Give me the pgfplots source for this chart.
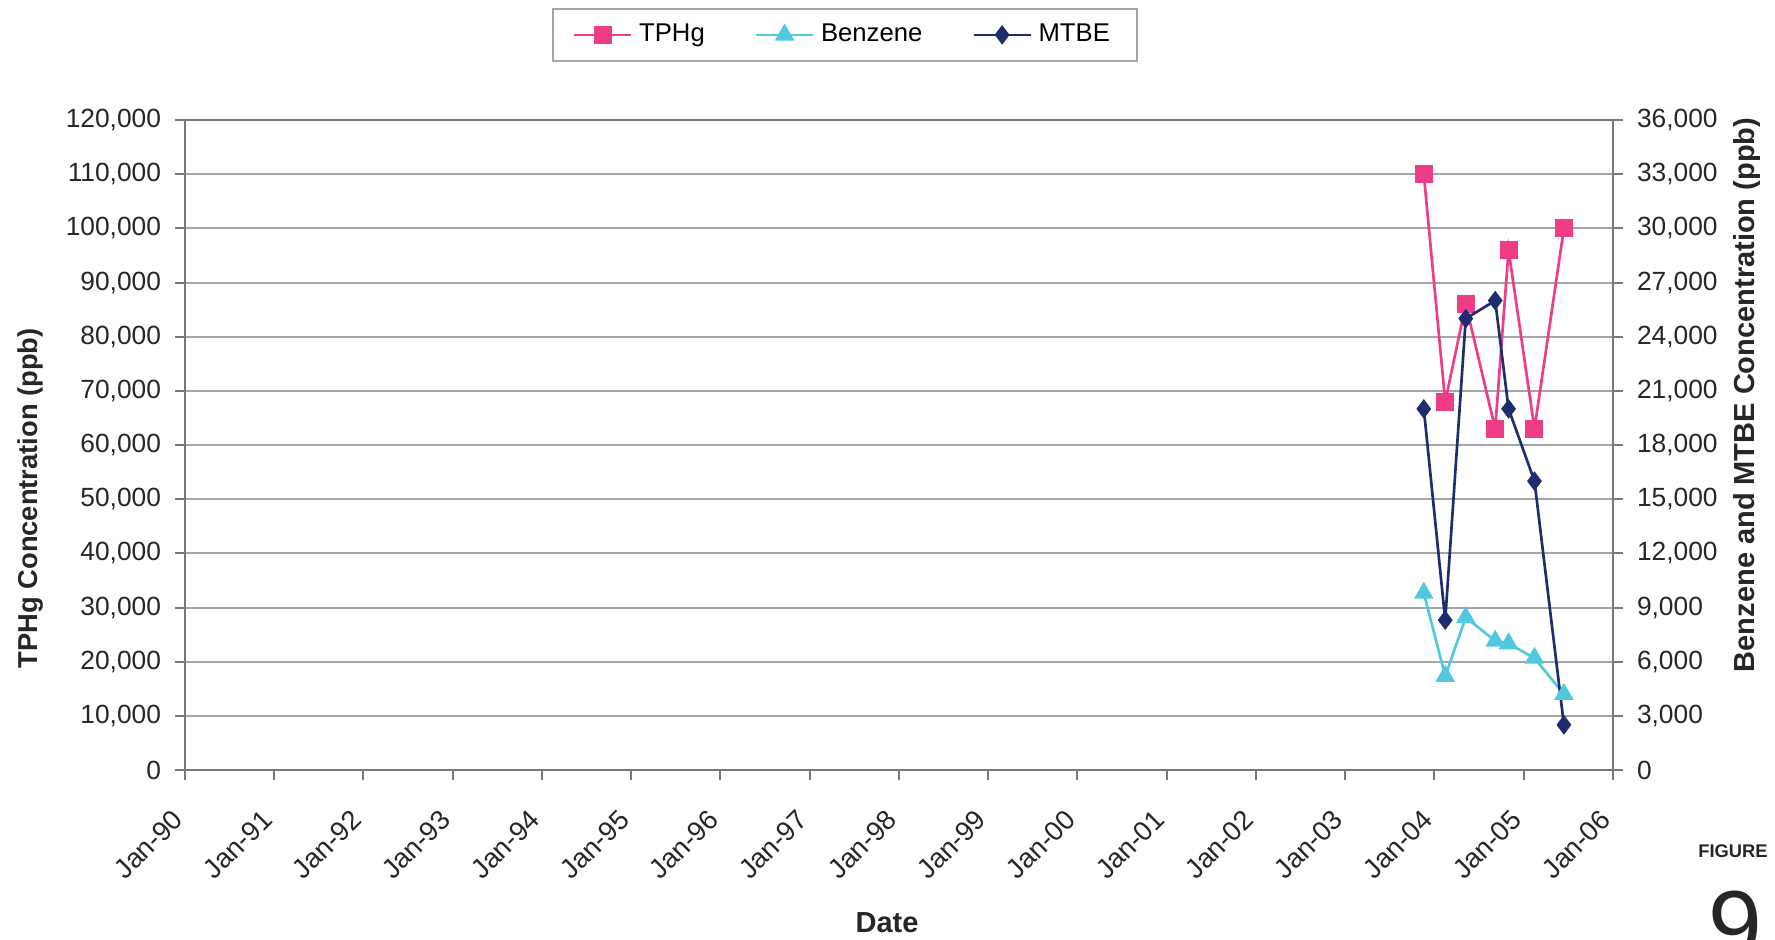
\documentclass[border=0pt]{standalone}
\usepackage{fontspec}
\setmainfont{Liberation Sans}
\usepackage{pgfplots}
\pgfplotsset{compat=1.18}
\definecolor{tphg}{RGB}{238,60,135}
\definecolor{benz}{RGB}{80,200,222}
\definecolor{mtbe}{RGB}{30,45,110}
\definecolor{gridc}{RGB}{165,165,165}
\definecolor{axisc}{RGB}{120,120,120}
\begin{document}
\begin{tikzpicture}
\path[use as bounding box] (-55.5pt,-50.7pt) rectangle (477pt,231pt);
\pgfplotsset{
  common/.style={
    scale only axis, width=428.4pt, height=195pt,
    at={(0,0)}, anchor=south west,
    xmin=1990, xmax=2006,
    tick align=outside, major tick length=3pt,
    tick style={axisc, line width=0.6pt},
    axis line style={axisc, line width=0.8pt},
    ticklabel style={font=\fontsize{7.9}{9}\selectfont, text=black!85},
    /pgf/number format/fixed,
    /pgf/number format/1000 sep={,},
    /pgf/number format/assume math mode=true,
    scaled ticks=false,
  }
}
\begin{axis}[common,
  ymin=0, ymax=120000, ytick={0,10000,...,120000},
  ytick pos=left, xtick pos=bottom,
  ymajorgrids, grid style={gridc, line width=0.6pt},
  xtick={1990,...,2006},
  xticklabels={Jan-90,Jan-91,Jan-92,Jan-93,Jan-94,Jan-95,Jan-96,Jan-97,Jan-98,Jan-99,Jan-00,Jan-01,Jan-02,Jan-03,Jan-04,Jan-05,Jan-06},
  xticklabel style={rotate=45, anchor=east, inner sep=0pt, xshift=-8.7pt, yshift=-5.9pt, font=\fontsize{8.2}{9}\selectfont},
  yticklabel style={inner sep=0pt, xshift=-4pt},
  ylabel={TPHg Concentration (ppb)},
  ylabel style={at={(axis description cs:-0.108,0.418)}, anchor=center, font=\bfseries\fontsize{8.2}{10}\selectfont, text=black!85},
  xlabel={Date},
  xlabel style={at={(axis description cs:0.4916,-0.235)}, anchor=center, font=\bfseries\fontsize{8.7}{10}\selectfont, text=black!85},
]
\addplot[tphg, line width=0.8pt, mark=square*, mark size=2.3pt, mark options={fill=tphg, solid}] coordinates {
  (2003.88,110000) (2004.12,68000) (2004.35,86000) (2004.68,63000) (2004.83,96000) (2005.12,63000) (2005.45,100000)
};
\end{axis}
\begin{axis}[common,
  ymin=0, ymax=36000, ytick={0,3000,...,36000},
  axis y line*=right, axis x line=none,
  yticklabel style={inner sep=0pt, xshift=4pt},
  ylabel={Benzene and MTBE Concentration (ppb)},
  ylabel style={at={(axis description cs:1.094,0.577)}, anchor=center, rotate=0, font=\bfseries\fontsize{8.7}{10}\selectfont, text=black!85},
  legend columns=3,
  legend style={at={(axis description cs:0.462,1.131)}, anchor=center, draw=gray!70, line width=0.6pt,
    font=\fontsize{7.7}{8.8}\selectfont, inner xsep=6pt, inner ysep=2.5pt,
    /tikz/every even column/.append style={column sep=13pt}},
]
\addlegendimage{tphg, line width=0.8pt, mark=square*, mark size=2.3pt, mark options={fill=tphg, solid}}
\addlegendentry{TPHg}
\addplot[benz, line width=0.8pt, mark=triangle*, mark size=2.6pt, mark options={fill=benz, solid}] coordinates {
  (2003.88,9800) (2004.12,5200) (2004.35,8450) (2004.68,7150) (2004.83,7000) (2005.12,6200) (2005.45,4200)
};
\addlegendentry{Benzene}
\addplot[mtbe, line width=0.8pt, mark=diamond*, mark size=2.3pt, mark options={fill=mtbe, solid}] coordinates {
  (2003.88,20000) (2004.12,8300) (2004.35,25000) (2004.68,26000) (2004.83,20000) (2005.12,16000) (2005.45,2500)
};
\addlegendentry{MTBE}
\end{axis}
\node[font=\bfseries\fontsize{5.5}{6}\selectfont, text=black!85] at (464.4pt,-24.3pt) {FIGURE};
\node[font=\fontsize{29}{30}\selectfont, text=black!85, anchor=north, inner sep=0pt] at (465pt,-36pt) {9};
\end{tikzpicture}
\end{document}
